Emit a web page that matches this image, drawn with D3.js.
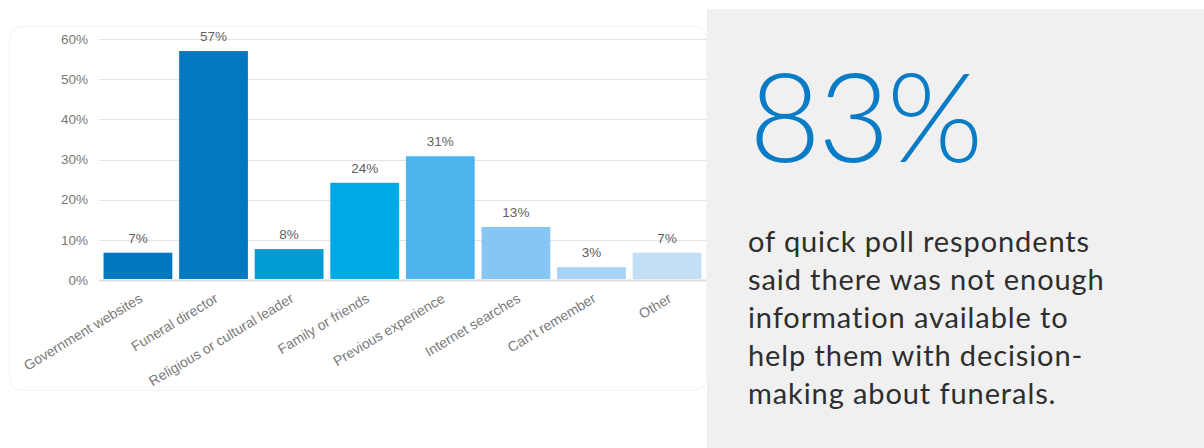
<!DOCTYPE html>
<html>
<head>
<meta charset="utf-8">
<script src="https://cdn.jsdelivr.net/npm/d3@7"></script>
<style>
  html, body { margin: 0; padding: 0; background: #fff; }
  svg { display: block; }
</style>
</head>
<body>
<svg id="chart" width="1204" height="448"></svg>
<script>
// data
const categories = ["Government websites", "Funeral director", "Religious or cultural leader",
  "Family or friends", "Previous experience", "Internet searches", "Can't remember", "Other"];
const values = [6.8, 57, 7.7, 24.2, 30.8, 13.2, 3.2, 6.8];
const valueLabels = ["7%", "57%", "8%", "24%", "31%", "13%", "3%", "7%"];
const barColors = ["#0078c1", "#0079c1", "#009bd5", "#00a9e6", "#4cb5ee", "#87c6f3", "#a8d3f6", "#c2dff6"];
const yTicks = [0, 10, 20, 30, 40, 50, 60];
const bigNumber = "83%";
const blurbLines = ["of quick poll respondents", "said there was not enough",
  "information available to", "help them with decision-", "making about funerals."];

const svg = d3.select("#chart");
const font = "Arial, 'Liberation Sans', sans-serif";

// card behind the chart (barely visible edge)
svg.append("rect")
  .attr("x", 9.5).attr("y", 26.5)
  .attr("width", 697).attr("height", 364)
  .attr("rx", 12)
  .attr("fill", "#fff")
  .attr("stroke", "#f3f3f3");

// right panel
svg.append("rect")
  .attr("x", 707).attr("y", 9)
  .attr("width", 497).attr("height", 439)
  .attr("fill", "#f0f0f0");

const x = d3.scaleBand()
  .domain(categories)
  .range([99, 706])
  .paddingInner(0.09)
  .paddingOuter(0.06);

const y = d3.scaleLinear()
  .domain([0, 60])
  .range([280, 39]);

// grid lines
svg.append("g")
  .selectAll("line")
  .data(yTicks)
  .enter().append("line")
  .attr("x1", 99).attr("x2", 706)
  .attr("y1", d => Math.round(y(d)) + 0.5)
  .attr("y2", d => Math.round(y(d)) + 0.5)
  .attr("stroke", d => d === 0 ? "#dcdcdc" : "#e4e4e4")
  .attr("stroke-width", d => d === 0 ? 2 : 1);

// y axis labels
const yAxis = svg.append("g")
  .attr("transform", "translate(88,0)")
  .call(d3.axisLeft(y).tickValues(yTicks).tickFormat(d => d + "%").tickSize(0).tickPadding(0));
yAxis.select(".domain").remove();
yAxis.selectAll("text")
  .attr("font-family", font)
  .attr("font-size", 13.5)
  .attr("fill", "#777");

// bars
svg.append("g")
  .selectAll("rect")
  .data(values)
  .enter().append("rect")
  .attr("x", (d, i) => x(categories[i]))
  .attr("y", d => y(d))
  .attr("width", x.bandwidth())
  .attr("height", d => 279 - y(d))
  .attr("fill", (d, i) => barColors[i]);

// value labels
svg.append("g")
  .selectAll("text")
  .data(values)
  .enter().append("text")
  .attr("x", (d, i) => x(categories[i]) + x.bandwidth() / 2)
  .attr("y", d => y(d) - 10)
  .attr("text-anchor", "middle")
  .attr("font-family", font)
  .attr("font-size", 13.5)
  .attr("fill", "#606060")
  .text((d, i) => valueLabels[i]);

// category labels, rotated
svg.append("g")
  .selectAll("text")
  .data(categories)
  .enter().append("text")
  .attr("transform", d => `translate(${x(d) + x.bandwidth() / 2 + 3},${297}) rotate(-31)`)
  .attr("text-anchor", "end")
  .attr("dy", "0.35em")
  .attr("font-family", font)
  .attr("font-size", 14)
  .attr("fill", "#7a7a7a")
  .text(d => d);

// big number
svg.append("text")
  .attr("x", 749)
  .attr("y", 162)
  .attr("font-family", "Lato, sans-serif")
  .attr("font-weight", 300)
  .attr("font-size", 124)
  .attr("letter-spacing", -3)
  .attr("fill", "#0a7cc6")
  .text(bigNumber);

// blurb
svg.append("g")
  .selectAll("text")
  .data(blurbLines)
  .enter().append("text")
  .attr("x", 748)
  .attr("y", (d, i) => 252 + i * 37.9)
  .attr("font-family", "Lato, sans-serif")
  .attr("font-size", 29)
  .attr("letter-spacing", 0.9)
  .attr("fill", "#2e2e2e")
  .text(d => d);
</script>
</body>
</html>
